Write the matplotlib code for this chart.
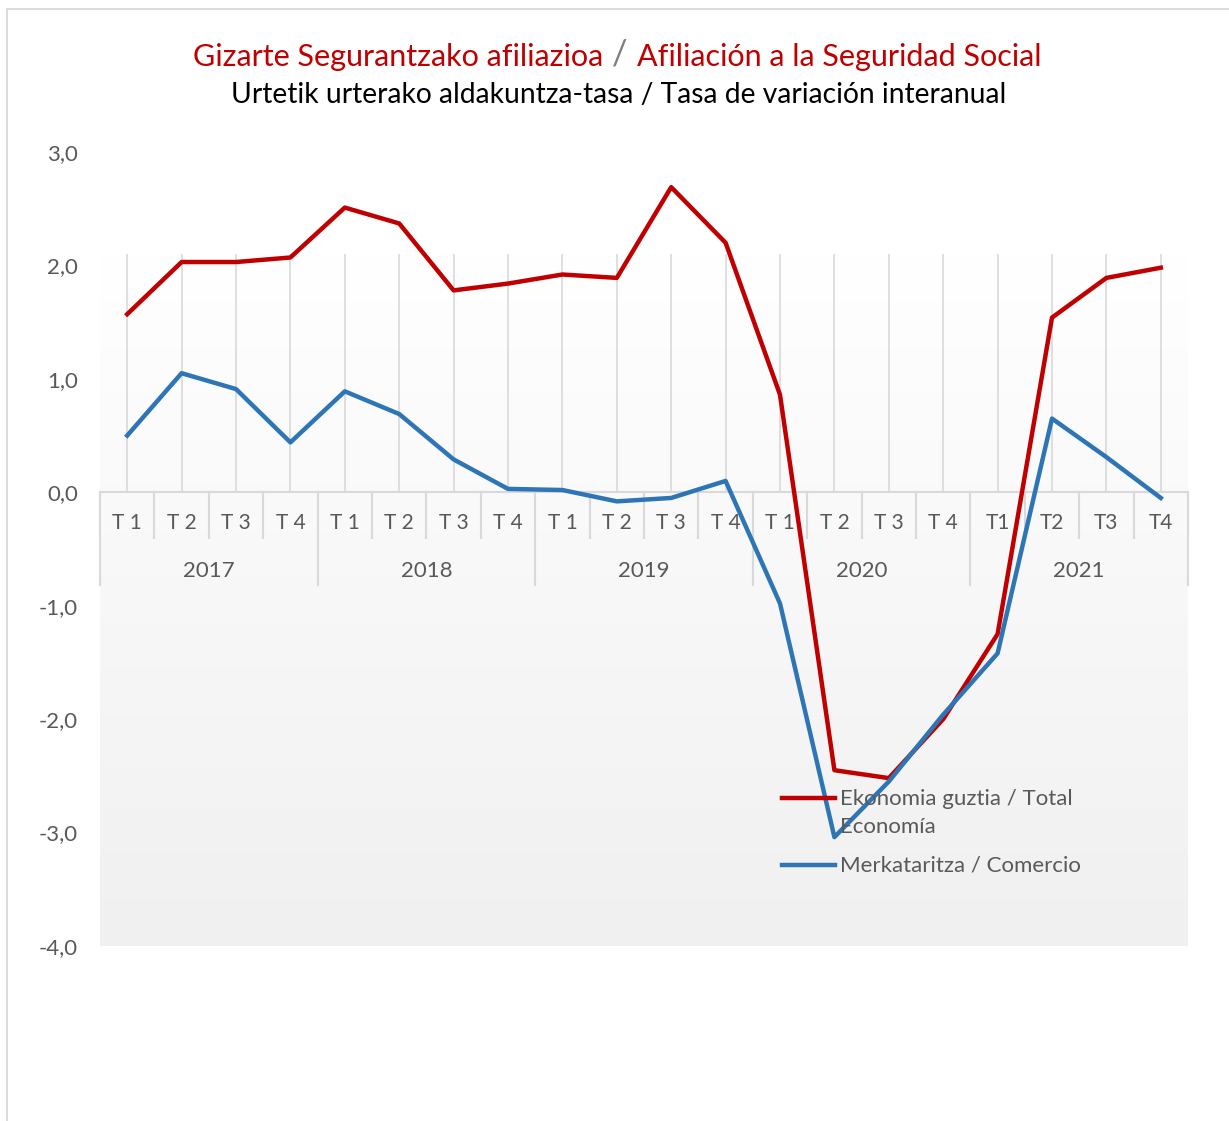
import numpy as np
import matplotlib
matplotlib.use("Agg")
import matplotlib.pyplot as plt
from matplotlib.lines import Line2D
from matplotlib.patches import Rectangle

plt.rcParams['font.family'] = ['Lato', 'DejaVu Sans']

# ---- data ----
years = ["2017", "2018", "2019", "2020", "2021"]
quarters = ["T 1", "T 2", "T 3", "T 4"] * 4 + ["T1", "T2", "T3", "T4"]
total = [1.57, 2.03, 2.03, 2.07,
         2.51, 2.37, 1.78, 1.84,
         1.92, 1.89, 2.69, 2.20,
         0.86, -2.45, -2.52, -2.00,
         -1.25, 1.54, 1.89, 1.98]
comercio = [0.50, 1.05, 0.91, 0.44,
            0.89, 0.69, 0.29, 0.03,
            0.02, -0.08, -0.05, 0.10,
            -0.98, -3.04, -2.55, -1.96,
            -1.42, 0.65, 0.31, -0.05]
lbl_total = "Ekonomia guztia / Total\nEconomía"
lbl_com = "Merkataritza / Comercio"

RED = "#C00000"
BLUE = "#2E75B6"
GRAY = "#595959"
SEP = "#D9D9D9"

W, H = 1229, 1121
fig = plt.figure(figsize=(W / 100, H / 100), dpi=100)
fig.patch.set_facecolor("white")

# outer chart border (cut off on right/bottom like the screenshot)
fig.patches.append(Rectangle((7 / W, -0.1), 1.2, 1 - 9 / H + 0.1, transform=fig.transFigure,
                             fill=False, edgecolor="#D9D9D9", lw=1.3))

ax = fig.add_axes([100 / W, (H - 946) / H, 1088 / W, (946 - 152) / H])
n = len(total)
x = np.arange(n)
ax.set_xlim(-0.5, n - 0.5)
ax.set_ylim(-4, 3)
for s in ax.spines.values():
    s.set_visible(False)
ax.set_facecolor("none")

# gradient background (white -> light gray)
top_bg = 2.1
grad = np.linspace(1.0, 0.0, 256).reshape(-1, 1)
ax.imshow(grad, extent=(-0.5, n - 0.5, -4, top_bg), aspect="auto",
          cmap=matplotlib.colors.LinearSegmentedColormap.from_list("g", ["#F0F0F0", "#FFFFFF"]),
          vmin=0, vmax=1, zorder=0, origin="upper")

# vertical gridlines
ax.vlines(x, 0, top_bg, color=SEP, lw=1.2, zorder=1)

# y ticks
yt = np.arange(-4, 4)
ax.set_yticks(yt)
ax.set_yticklabels([f"{v:.1f}".replace(".", ",") for v in yt], color=GRAY, fontsize=16)
ax.tick_params(axis="y", length=0, pad=16)
ax.set_xticks([])

# category axis line + multi-level labels
ax.axhline(0, color=SEP, lw=1.5, zorder=2)
py = (946 - 152) / 7.0  # px per unit
t_y, yr_y = -31 / py, -79 / py
short_y, long_y = -46 / py, -93 / py
for i, q in enumerate(quarters):
    ax.text(i, t_y, q, ha="center", va="center", fontsize=15, color=GRAY, zorder=3)
for b in range(n + 1):
    bx = b - 0.5
    bottom = long_y if b % 4 == 0 else short_y
    ax.plot([bx, bx], [0, bottom], color=SEP, lw=1.5, clip_on=False, zorder=2)
for k, yr in enumerate(years):
    ax.text(4 * k + 1.5, yr_y, yr, ha="center", va="center", fontsize=16, color=GRAY, zorder=3)

# series
ax.plot(x, total, color=RED, lw=3.2, solid_joinstyle="round", zorder=5)
ax.plot(x, comercio, color=BLUE, lw=3.2, solid_joinstyle="round", zorder=5)

# legend drawn by hand (handle aligned with first text line)
def leg_entry(py_, color, text):
    fig.add_artist(Line2D([782 / W, 835 / W], [1 - py_ / H] * 2, color=color, lw=3.2,
                          transform=fig.transFigure))
    fig.text(840 / W, 1 - (py_ - 9) / H, text, color=GRAY, fontsize=16, va="top",
             ha="left", linespacing=1.5)

leg_entry(798, RED, lbl_total)
leg_entry(865, BLUE, lbl_com)

# title: red parts with a gray slash
t1 = fig.text(193 / W, 1 - 66 / H, "Gizarte Segurantzako afiliazioa", color=RED, fontsize=22,
              ha="left", va="baseline")
t2 = ax.annotate(" / ", xy=(1, 0), xycoords=t1, xytext=(0, 0), textcoords="offset points",
                 color="#7F7F7F", fontsize=25, ha="left", va="bottom", annotation_clip=False)
t3 = ax.annotate("Afiliación a la Seguridad Social", xy=(1, 0), xycoords=t2, color=RED,
                 fontsize=22, ha="left", va="bottom", annotation_clip=False)
fig.text(619 / W, 1 - 95 / H, "Urtetik urterako aldakuntza-tasa / Tasa de variación interanual",
         color="black", fontsize=20.3, ha="center", va="center")

fig.savefig("out.png", dpi=100)
